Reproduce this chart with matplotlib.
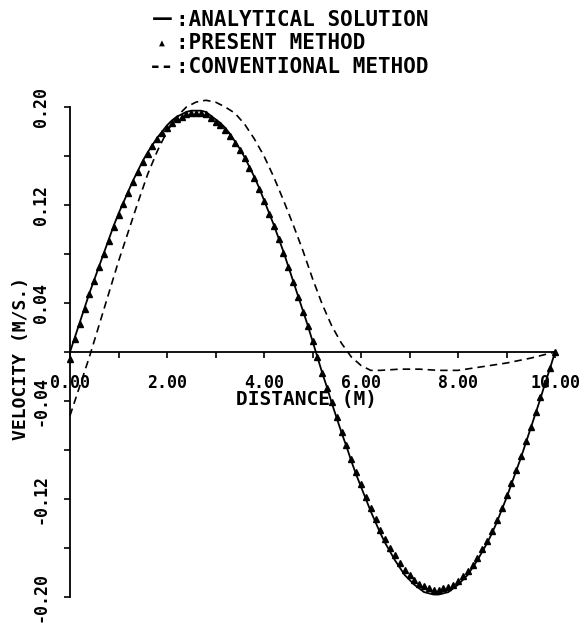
import matplotlib
matplotlib.use("Agg")
import matplotlib.pyplot as plt
import numpy as np

# distance grid (m), step 0.1
distance = np.round(np.arange(0, 101) * 0.1, 1)

# analytical solution (m/s)
analytical = [
    0.000, 0.012, 0.024, 0.036, 0.048, 0.059, 0.070, 0.081, 0.092, 0.103,
    0.113, 0.122, 0.131, 0.140, 0.148, 0.156, 0.163, 0.169, 0.175, 0.180,
    0.185, 0.189, 0.192, 0.194, 0.196, 0.197, 0.197, 0.197, 0.196, 0.193,
    0.190, 0.187, 0.183, 0.178, 0.172, 0.166, 0.159, 0.151, 0.143, 0.134,
    0.124, 0.114, 0.104, 0.093, 0.082, 0.070, 0.058, 0.046, 0.034, 0.022,
    0.009, -0.004, -0.017, -0.029, -0.042, -0.054, -0.066, -0.077, -0.089, -0.100,
    -0.110, -0.120, -0.130, -0.139, -0.148, -0.156, -0.163, -0.170, -0.176, -0.182,
    -0.186, -0.190, -0.193, -0.196, -0.197, -0.198, -0.198, -0.197, -0.196, -0.193,
    -0.190, -0.186, -0.182, -0.176, -0.170, -0.163, -0.156, -0.148, -0.139, -0.129,
    -0.119, -0.108, -0.097, -0.086, -0.074, -0.062, -0.050, -0.038, -0.025, -0.013,
    0.000,
]

# present method (triangles)
present = [
    -0.006, 0.011, 0.023, 0.035, 0.047, 0.058, 0.069, 0.080, 0.091, 0.102,
    0.112, 0.121, 0.130, 0.139, 0.147, 0.155, 0.162, 0.168, 0.174, 0.179,
    0.183, 0.187, 0.190, 0.192, 0.194, 0.195, 0.195, 0.195, 0.194, 0.191,
    0.188, 0.185, 0.181, 0.176, 0.171, 0.165, 0.158, 0.150, 0.142, 0.133,
    0.123, 0.113, 0.103, 0.092, 0.081, 0.069, 0.057, 0.045, 0.033, 0.021,
    0.009, -0.004, -0.017, -0.029, -0.041, -0.053, -0.065, -0.076, -0.087, -0.098,
    -0.108, -0.118, -0.127, -0.136, -0.145, -0.153, -0.160, -0.166, -0.172, -0.178,
    -0.182, -0.186, -0.189, -0.191, -0.193, -0.194, -0.194, -0.193, -0.192, -0.190,
    -0.187, -0.183, -0.179, -0.174, -0.168, -0.161, -0.154, -0.146, -0.137, -0.127,
    -0.117, -0.107, -0.096, -0.085, -0.073, -0.061, -0.049, -0.037, -0.025, -0.013,
    0.000,
]

# conventional method (dashed)
conv_x = [0.0, 0.2, 0.4, 0.6, 0.8, 1.0, 1.2, 1.4, 1.6, 1.8, 2.0, 2.2, 2.4, 2.6,
          2.8, 3.0, 3.2, 3.4, 3.6, 3.8, 4.0, 4.2, 4.4, 4.6, 4.8, 5.0, 5.2, 5.4,
          5.6, 5.8, 6.0, 6.2, 6.4, 6.8, 7.2, 7.6, 8.0, 8.5, 9.0, 9.5, 10.0]
conv_v = [-0.052, -0.028, -0.004, 0.022, 0.048, 0.074, 0.098, 0.122, 0.145, 0.164,
          0.180, 0.192, 0.200, 0.204, 0.2055, 0.204, 0.200, 0.195, 0.186, 0.174,
          0.160, 0.143, 0.124, 0.104, 0.083, 0.060, 0.039, 0.021, 0.007, -0.004,
          -0.011, -0.015, -0.015, -0.014, -0.014, -0.015, -0.015, -0.012, -0.009,
          -0.005, 0.000]

x_major = [0, 2, 4, 6, 8, 10]
x_minor = [1, 3, 5, 7, 9]
y_major = [-0.20, -0.12, -0.04, 0.04, 0.12, 0.20]
y_minor = [-0.16, -0.08, 0.0, 0.08, 0.16]

mono = "DejaVu Sans Mono"
W, H = 583, 631

fig = plt.figure(figsize=(5.83, 6.31), dpi=100)
ax = fig.add_axes([70 / W, 1 - 597 / H, 485 / W, 490 / H])

ax.plot(distance, analytical, color="black", lw=1.3, clip_on=False)
ax.plot(distance, present, linestyle="none", marker="^", color="black",
        markersize=5, clip_on=False)
ax.plot(conv_x, conv_v, color="black", lw=1.2, dashes=(4.5, 3), clip_on=False)

ax.set_xlim(0, 10)
ax.set_ylim(-0.2, 0.2)

for s in ["top", "right"]:
    ax.spines[s].set_visible(False)
ax.spines["bottom"].set_position(("data", 0))
ax.spines["left"].set_linewidth(1.3)
ax.spines["bottom"].set_linewidth(1.3)

ax.set_xticks(x_major)
ax.set_xticks(x_minor, minor=True)
ax.set_xticklabels(["%.2f" % v for v in x_major], family=mono, fontsize=12,
                   fontweight="bold")
ax.set_yticks(y_major)
ax.set_yticks(y_minor, minor=True)
ax.set_yticklabels(["%.2f" % v for v in y_major], family=mono, fontsize=12,
                   fontweight="bold", rotation=90, va="center")

ax.tick_params(axis="x", which="both", direction="out", length=4.5, width=1.2, pad=11)
ax.tick_params(axis="y", which="both", direction="out", length=4.5, width=1.2, pad=10)

fig.text(307 / W, 1 - 400 / H, "DISTANCE (M)", family=mono, fontsize=14,
         fontweight="bold", ha="center", va="center")
fig.text(21 / W, 1 - 358 / H, "VELOCITY (M/S.)", family=mono, fontsize=13,
         fontweight="bold", ha="center", va="center", rotation=90)

# legend written as text
rows = [("\u2014", "ANALYTICAL SOLUTION", 19.5, 15, "DejaVu Sans"),
        ("\u25b2", "PRESENT METHOD", 43, 7, mono),
        ("--", "CONVENTIONAL METHOD", 67, 15, mono)]
for sym, label, ypx, sz, fam in rows:
    fig.text(162 / W, 1 - ypx / H, sym, family=fam, fontsize=sz,
             fontweight="bold", ha="center", va="center")
    fig.text(176 / W, 1 - ypx / H, ":" + label, family=mono, fontsize=15,
             fontweight="bold", ha="left", va="center")

fig.savefig("out.png", dpi=100)
